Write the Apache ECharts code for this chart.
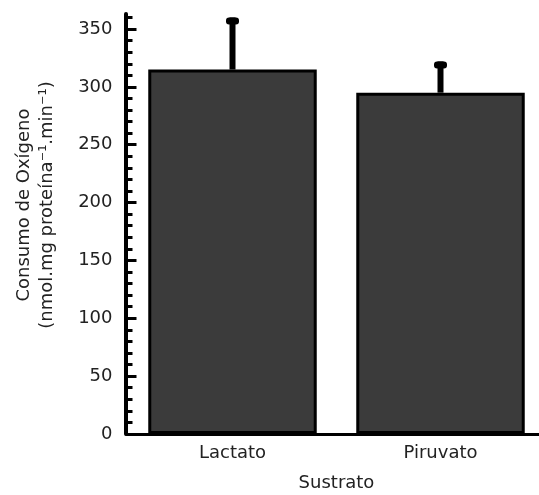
<!DOCTYPE html>
<html>
<head>
<meta charset="utf-8">
<script src="https://cdn.jsdelivr.net/npm/echarts@6/dist/echarts.min.js"></script>
<style>html,body{margin:0;padding:0;background:#fff}#c{width:539px;height:495px}</style>
</head>
<body>
<div id="c"></div>
<script>
var categories = ['Lactato', 'Piruvato'];
var values = [315, 295];
var errors = [45, 27];
var majorTicks = [0, 50, 100, 150, 200, 250, 300, 350];
var minorTicks = [10,20,30,40,60,70,80,90,110,120,130,140,160,170,180,190,210,220,230,240,260,270,280,290,310,320,330,340,360];
var yMax = 363;
var xTitle = 'Sustrato';
var yTitle = 'Consumo de Oxígeno\n(nmol.mg proteína⁻¹.min⁻¹)';

var font = 'DejaVu Sans';
var chart = echarts.init(document.getElementById('c'));
chart.setOption({
  animation: false,
  grid: { left: 128.5, right: -5.5, top: 14, bottom: 61, containLabel: false, outerBoundsMode: 'none' },
  xAxis: {
    type: 'category', data: categories,
    axisLine: { show: true, lineStyle: { color: '#000', width: 3 } },
    axisTick: { show: false },
    axisLabel: { margin: 10, fontFamily: font, fontSize: 18, color: '#222' },
    name: xTitle, nameLocation: 'middle', nameGap: 40,
    nameTextStyle: { fontFamily: font, fontSize: 18, color: '#222' }
  },
  yAxis: [{
    type: 'value', min: 0, max: yMax, offset: 3,
    splitLine: { show: false },
    axisLine: { show: true, lineStyle: { color: '#000', width: 4 } },
    axisTick: { show: true, inside: true, length: 11, customValues: majorTicks, lineStyle: { color: '#000', width: 3 } },
    axisLabel: { margin: 13, customValues: majorTicks, fontFamily: font, fontSize: 18, color: '#222' },
    name: yTitle, nameLocation: 'middle', nameGap: 67, nameRotate: 90,
    nameTextStyle: { fontFamily: font, fontSize: 18, color: '#222', lineHeight: 23, padding: [0, 0, 0, 38] }
  }, {
    type: 'value', min: 0, max: yMax, position: 'left', offset: 3,
    splitLine: { show: false },
    axisLine: { show: false },
    axisTick: { show: true, inside: true, length: 7, customValues: minorTicks, lineStyle: { color: '#000', width: 3 } },
    axisLabel: { show: false }
  }],
  series: [{
    type: 'bar', data: values, barWidth: '81%',
    itemStyle: { color: '#3b3b3b', borderColor: '#000', borderWidth: 3 }
  }, {
    type: 'custom', z: 1,
    data: values.map(function (v, i) { return [i, v, v + errors[i]]; }),
    renderItem: function (params, api) {
      var i = api.value(0);
      var lo = api.coord([i, api.value(1)]);
      var hi = api.coord([i, api.value(2)]);
      return {
        type: 'group',
        children: [
          { type: 'rect', shape: { x: lo[0] - 3, y: hi[1], width: 6, height: lo[1] - hi[1] }, style: { fill: '#000' } },
          { type: 'rect', shape: { x: lo[0] - 6.5, y: hi[1], width: 13, height: 7, r: 3 }, style: { fill: '#000' } }
        ]
      };
    }
  }]
});
</script>
</body>
</html>
